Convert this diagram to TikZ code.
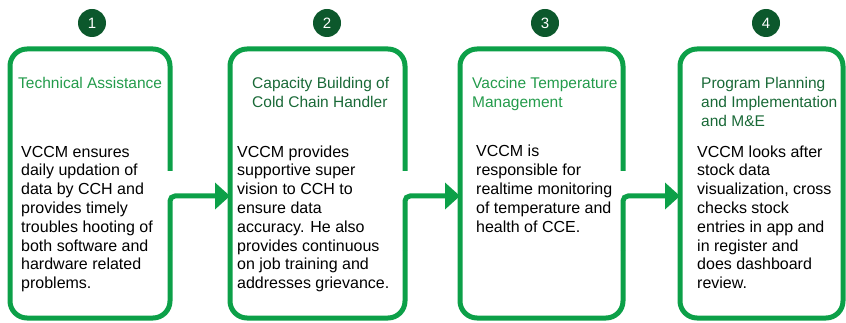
\documentclass[tikz,border=0pt]{standalone}
\usepackage{fontspec}
\setmainfont{Liberation Sans}
\usetikzlibrary{arrows.meta}
\definecolor{framegreen}{RGB}{12,160,72}
\definecolor{titlegreen}{RGB}{35,155,75}
\definecolor{titledark}{RGB}{25,105,55}
\definecolor{dotgreen}{RGB}{12,88,44}
\begin{document}
\begin{tikzpicture}[x=1pt,y=-1pt,
  frame/.style={draw=framegreen,line width=5pt,rounded corners=17pt},
  link/.style={draw=framegreen,line width=5pt,rounded corners=5pt,-{Triangle[length=15pt,width=26pt]}},
  numdot/.style={circle,fill=dotgreen,text=white,minimum size=28pt,inner sep=0pt,font=\fontsize{15}{17}\selectfont},
  title/.style={anchor=base west,align=left,inner sep=0pt,font=\fontsize{15.5}{19}\selectfont},
  body/.style={anchor=base west,align=left,inner sep=0pt,text=black,font=\fontsize{16}{18.8}\selectfont}]
\useasboundingbox (0,0) rectangle (846,323);
\def\yt{49} %top of the frames
\def\yb{318} %bottom of the frames
\def\yg{171} %where the upper right side stops
\def\ya{196} %height of the arrows

% corners of the frames
\foreach \n/\l/\r in {1/10/170,2/230/405,3/460/623,4/680/843}
{
\coordinate (nw\n) at (\l,\yt);
\coordinate (se\n) at (\r,\yb);
}

% numbers
\foreach \n/\x in {1/92,2/327,3/545,4/766}
  \node[numdot] (num\n) at (\x,23) {\n};

% frames with a gap on the right
\foreach \n in {1,2,3}
  \draw[frame] (se\n |- 0,\yg) -- (se\n |- nw\n) -- (nw\n) -- (nw\n |- se\n) -- (se\n) -- (se\n |- 0,250);
\draw[frame] (nw4) rectangle (se4);

% arrows to the next frame
\foreach \n/\m in {1/2,2/3,3/4}
  \draw[link] (se\n |- 0,250) |- (nw\m |- 0,\ya);

% titles (placed at the baseline of their last line)
\node[title,text=titlegreen] (title1) at (18,89) {Technical Assistance};
\node[title,text=titledark] (title2) at (252,108) {Capacity Building of\\Cold Chain Handler};
\node[title,text=titlegreen] (title3) at (472,108) {Vaccine Temperature\\Management};
\node[title,text=titledark] (title4) at (701,127) {Program Planning\\and Implementation\\and M\&E};

% texts (first line at 157)
\node[body] (body1) at (21,288.6) {VCCM ensures\\daily updation of\\data by CCH and\\provides timely\\troubles hooting of\\both software and\\hardware related\\problems.};
\node[body] (body2) at (237,288.6) {VCCM provides\\supportive super\\vision to CCH to\\ensure data\\accuracy. He also\\provides continuous\\on job training and\\addresses grievance.};
\node[body] (body3) at (476,232.2) {VCCM is\\responsible for\\realtime monitoring\\of temperature and\\health of CCE.};
\node[body] (body4) at (697,288.6) {VCCM looks after\\stock data\\visualization, cross\\checks stock\\entries in app and\\in register and\\does dashboard\\review.};
\end{tikzpicture}
\end{document}
